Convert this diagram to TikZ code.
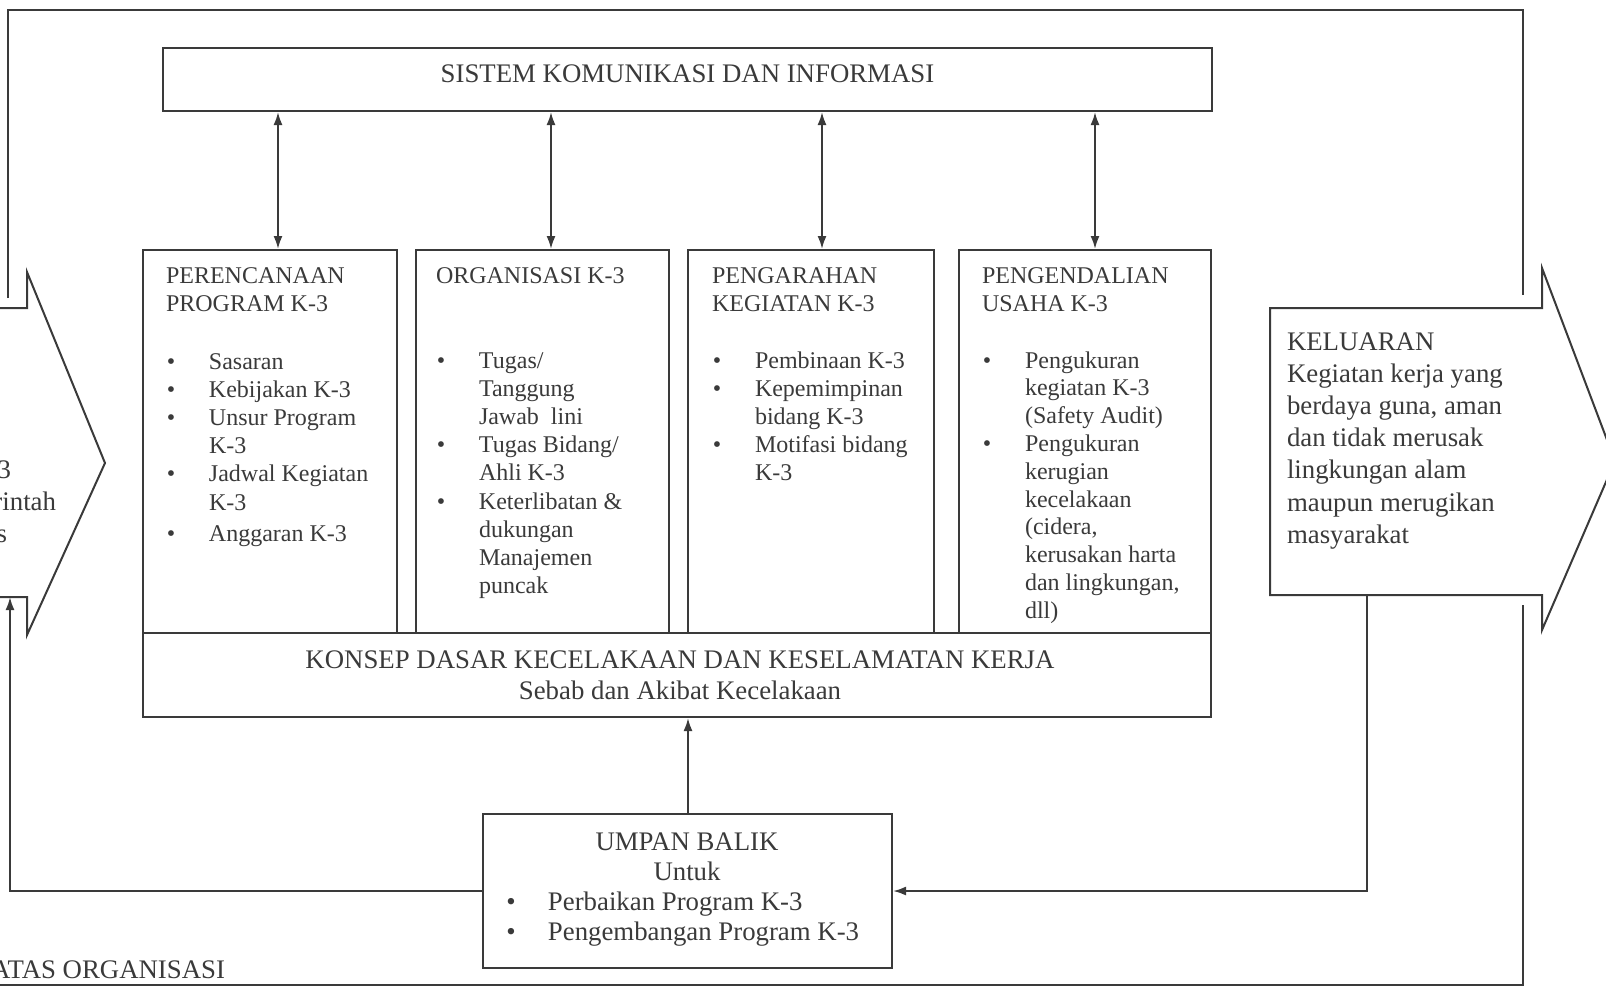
\documentclass[tikz,border=0pt]{standalone}
\usepackage{fontspec}
\setmainfont{Liberation Serif}
\usetikzlibrary{arrows.meta,fit}
\definecolor{ink}{HTML}{3A3A3A}
\newcommand\bi{\makebox[21.5pt][l]{\makebox[5pt]{\textbullet}}}
\newcommand\ind{\hspace*{21.5pt}}
\newcommand\bigfs{\fontsize{13.4}{16.1}\selectfont}
\newcommand\smallfs{\fontsize{12}{14.1}\selectfont}
\begin{document}
\begin{tikzpicture}[x=0.5pt,y=-0.5pt, line width=1pt, color=ink,
  box/.style={draw=ink, inner sep=0pt},
  txt/.style={inner sep=0pt, text=ink},
  dbl/.style={{Latex[length=6.5pt,width=4.5pt]}-{Latex[length=6.5pt,width=4.5pt]}},
  arr/.style={-{Latex[length=6.5pt,width=4.5pt]}}]
\useasboundingbox (0,0) rectangle (1606,987);

% organisation boundary
\draw (8,298) -- (8,10) -- (1523,10) -- (1523,295);
\draw (1523,605) -- (1523,985) -- (-5,985);

% input and output arrows
\draw[fill=white] (-20,308) -- (27,308) -- (27,272) -- (105,463) -- (27,635) -- (27,597) -- (-20,597);
\draw[fill=white] (1270,308) -- (1542,308) -- (1542,268) -- (1615,461) -- (1542,630) -- (1542,595) -- (1270,595) -- cycle;
\coordinate (masB) at (10,597);
\coordinate (kelB) at (1367,595);

% boxes
\node[box, fit={(163,48) (1212,111)}] (sis) {};
\node[box, fit={(143,250) (397,633)}] (b1) {};
\node[box, fit={(416,250) (669,633)}] (b2) {};
\node[box, fit={(688,250) (934,633)}] (b3) {};
\node[box, fit={(959,250) (1211,633)}] (b4) {};
\node[box, fit={(143,633) (1211,717)}] (kon) {};
\node[box, fit={(483,814) (892,968)}] (ub) {};

% texts
\node[txt, anchor=base] (sist) at (687.5,82) {\bigfs SISTEM KOMUNIKASI DAN INFORMASI};

\node[txt, anchor=base west] (t1) at (165,283) {\smallfs\begin{tabular}[t]{@{}l@{}}PERENCANAAN\\PROGRAM K-3\end{tabular}};
\node[txt, anchor=base west] (l1) at (165,369) {\smallfs\begin{tabular}[t]{@{}l@{}}
\bi Sasaran\\
\bi Kebijakan K-3\\
\bi Unsur Program\\
\ind K-3\\
\bi Jadwal Kegiatan\\
\ind K-3\\[1.5pt]
\bi Anggaran K-3\end{tabular}};

\node[txt, anchor=base west] (t2) at (435,283) {\smallfs ORGANISASI K-3};
\node[txt, anchor=base west] (l2) at (435,368) {\smallfs\begin{tabular}[t]{@{}l@{}}
\bi Tugas/\\
\ind Tanggung\\
\ind Jawab~ lini\\
\bi Tugas Bidang/\\
\ind Ahli K-3\\
\bi Keterlibatan \&\\
\ind dukungan\\
\ind Manajemen\\
\ind puncak\end{tabular}};

\node[txt, anchor=base west] (t3) at (711,283) {\smallfs\begin{tabular}[t]{@{}l@{}}PENGARAHAN\\KEGIATAN K-3\end{tabular}};
\node[txt, anchor=base west] (l3) at (711,368) {\smallfs\begin{tabular}[t]{@{}l@{}}
\bi Pembinaan K-3\\
\bi Kepemimpinan\\
\ind bidang K-3\\
\bi Motifasi bidang\\
\ind K-3\end{tabular}};

\node[txt, anchor=base west] (t4) at (981,283) {\smallfs\begin{tabular}[t]{@{}l@{}}PENGENDALIAN\\USAHA K-3\end{tabular}};
\node[txt, anchor=base west] (l4) at (981,368) {\fontsize{12}{13.9}\selectfont\begin{tabular}[t]{@{}l@{}}
\bi Pengukuran\\
\ind kegiatan K-3\\
\ind (Safety Audit)\\
\bi Pengukuran\\
\ind kerugian\\
\ind kecelakaan\\
\ind (cidera,\\
\ind kerusakan harta\\
\ind dan lingkungan,\\
\ind dll)\end{tabular}};

\node[txt, anchor=base] (kont) at (680,668) {\bigfs\begin{tabular}[t]{@{}c@{}}KONSEP DASAR KECELAKAAN DAN KESELAMATAN KERJA\\[-0.6pt]Sebab dan Akibat Kecelakaan\end{tabular}};

\node[txt, anchor=base] (ubt) at (687,850) {\fontsize{13.4}{15}\selectfont\begin{tabular}[t]{@{}c@{}}UMPAN BALIK\\Untuk\end{tabular}};
\node[txt, anchor=base west] (ubl) at (505,910) {\fontsize{13.4}{15}\selectfont\begin{tabular}[t]{@{}l@{}}
\makebox[21pt][l]{\makebox[5pt]{\textbullet}}Perbaikan Program K-3\\
\makebox[21pt][l]{\makebox[5pt]{\textbullet}}Pengembangan Program K-3\end{tabular}};

\node[txt, anchor=base west] (kelt) at (1286,350) {\bigfs\begin{tabular}[t]{@{}l@{}}
KELUARAN\\
Kegiatan kerja yang\\
berdaya guna, aman\\
dan tidak merusak\\
lingkungan alam\\
maupun merugikan\\
masyarakat\end{tabular}};

\node[txt, anchor=base east] (m1) at (12,478) {\bigfs 3};
\node[txt, anchor=base east] (m2) at (57,510) {\bigfs rintah};
\node[txt, anchor=base east] (m3) at (8,542) {\bigfs s};

\node[txt, anchor=base east] (bat) at (226,978) {\bigfs ATAS ORGANISASI};

% connectors
\foreach \xx/\bb in {278/b1, 551/b2, 822/b3, 1095/b4}{
  \coordinate (c\bb) at (\xx,0);
  \draw[dbl] (c\bb |- sis.south) -- (c\bb |- \bb.north);
}
\coordinate (fx) at (688,0);
\draw[arr] (fx |- ub.north) -- (fx |- kon.south);
\draw[arr] (kelB) -- (kelB |- ub.east) -- (ub.east);
\draw[arr] (ub.west) -- (masB |- ub.west) -- (masB);
\end{tikzpicture}
\end{document}
